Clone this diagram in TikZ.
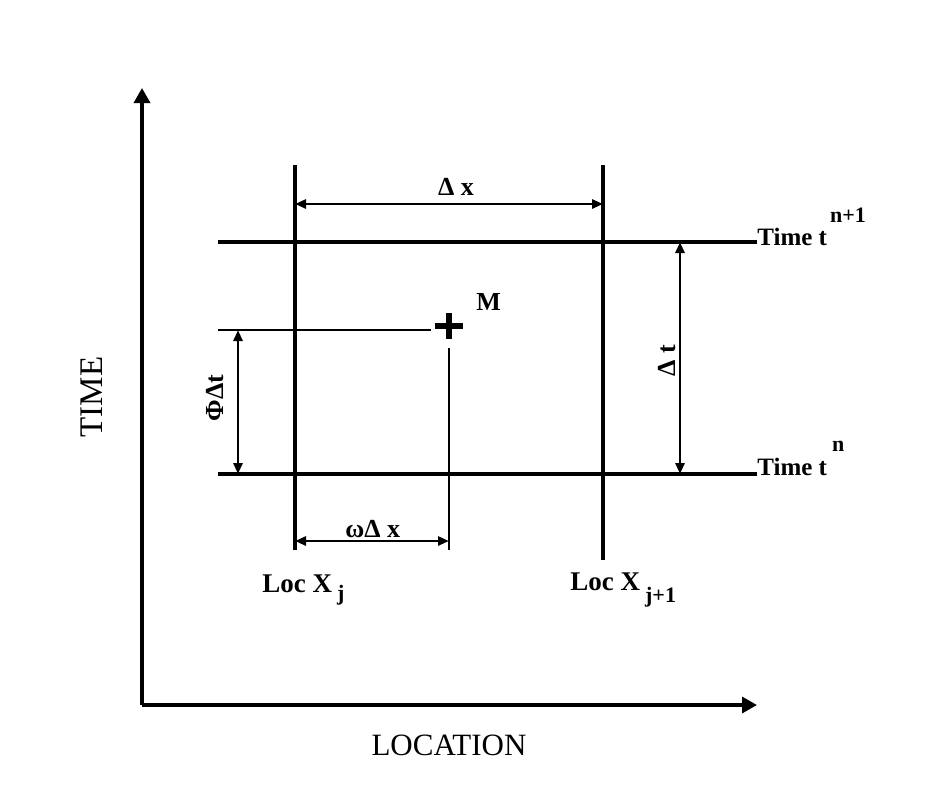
\documentclass[tikz,border=0pt]{standalone}
\usepackage{fontspec}
\setmainfont{Liberation Serif}
\usetikzlibrary{arrows.meta, calc}

\begin{document}
\begin{tikzpicture}[x=0.5pt, y=-0.5pt,
    axis/.style={line width=1.7pt, -{Triangle[length=7.5pt, width=8pt]}},
    gridline/.style={line width=2.3pt},
    thinline/.style={line width=1pt},
    dim/.style={line width=1.4pt,
                {Triangle[length=5.5pt, width=4.5pt]}-{Triangle[length=5.5pt, width=4.5pt]}},
    lbl/.style={font=\bfseries\fontsize{13}{15}\selectfont, inner sep=0pt},
    sup/.style={font=\bfseries\fontsize{13}{15}\selectfont, inner sep=0pt},
    axislbl/.style={font=\fontsize{15.5}{18}\selectfont, inner sep=0pt}
  ]
  \useasboundingbox (0,0) rectangle (947,804);

  % axes
  \coordinate (O) at (142,705);
  \coordinate (T) at (142,88);
  \coordinate (L) at (757,705);
  \draw[axis] (O) -- (T);
  \draw[axis] (O) -- (L);
  \node[axislbl, rotate=90, font=\fontsize{16.5}{18}\selectfont] (time) at (92,397) {TIME};
  \node[axislbl] (loc) at (449,745) {LOCATION};

  % grid lines
  \coordinate (xj top) at (295,165);
  \coordinate (xj bot) at (295,550);
  \coordinate (xk top) at (603,165);
  \coordinate (xk bot) at (603,560);
  \coordinate (tk left) at (218,242);
  \coordinate (tk right) at (757,242);
  \coordinate (tn left) at (218,474);
  \coordinate (tn right) at (757,474);
  \draw[gridline] (xj top) -- (xj bot);
  \draw[gridline] (xk top) -- (xk bot);
  \draw[gridline] (tk left) -- (tk right);
  \draw[gridline] (tn left) -- (tn right);

  \node[lbl, font=\bfseries\fontsize{12.5}{14}\selectfont, anchor=base west] (tk) at ($(tk right)+(0,3)$)
    {Time t\hspace{1.5pt}\raisebox{11.5pt}{\fontsize{11}{12}\selectfont n+1}};
  \node[lbl, font=\bfseries\fontsize{12.5}{14}\selectfont, anchor=base west] (tn) at ($(tn right)+(0,1)$)
    {Time t\hspace{2.5pt}\raisebox{12pt}{\fontsize{11}{12}\selectfont n}};
  \node[lbl, font=\bfseries\fontsize{13.5}{15}\selectfont, anchor=base west] (locj) at (262,592)
    {Loc X\hspace{2.5pt}\raisebox{-4pt}{\fontsize{11}{12}\selectfont j}};
  \node[lbl, font=\bfseries\fontsize{13.5}{15}\selectfont, anchor=base west] (lock) at (570,590)
    {Loc X\hspace{2.5pt}\raisebox{-6pt}{\fontsize{11}{12}\selectfont j+1}};

  % point M
  \coordinate (M) at (449,326);
  \draw[line width=2.6pt] ($(M)+(-14,0)$) -- ($(M)+(14,0)$);
  \draw[line width=2.6pt] ($(M)+(0,-13)$) -- ($(M)+(0,13)$);
  \node[sup, anchor=base west] (mlbl) at (476,310) {M};

  % projection lines
  \coordinate (ph left) at (218,330);
  \coordinate (ph right) at (431,330);
  \coordinate (pv top) at (449,348);
  \coordinate (pv bot) at (449,550);
  \draw[thinline] (ph left) -- (ph right);
  \draw[thinline] (pv top) -- (pv bot);

  % dimensions
  \coordinate (dx l) at (295,204);
  \coordinate (dx r) at (603,204);
  \draw[dim] (dx l) -- (dx r);
  \node[sup, anchor=base] (dxlbl) at (456,195) {Δ x};

  \coordinate (dt t) at (680,242);
  \coordinate (dt b) at (680,474);
  \draw[dim] (dt t) -- (dt b);
  \node[sup, rotate=90] (dtlbl) at (667,361) {Δ t};

  \coordinate (ft t) at (238,330);
  \coordinate (ft b) at (238,474);
  \draw[dim] (ft t) -- (ft b);
  \node[sup, rotate=90] (ftlbl) at (215,398) {ΦΔt};

  \coordinate (wx l) at (295,541);
  \coordinate (wx r) at (449,541);
  \draw[dim] (wx l) -- (wx r);
  \node[sup, anchor=base west] (wxlbl) at (345,537) {ωΔ x};
\end{tikzpicture}
\end{document}
